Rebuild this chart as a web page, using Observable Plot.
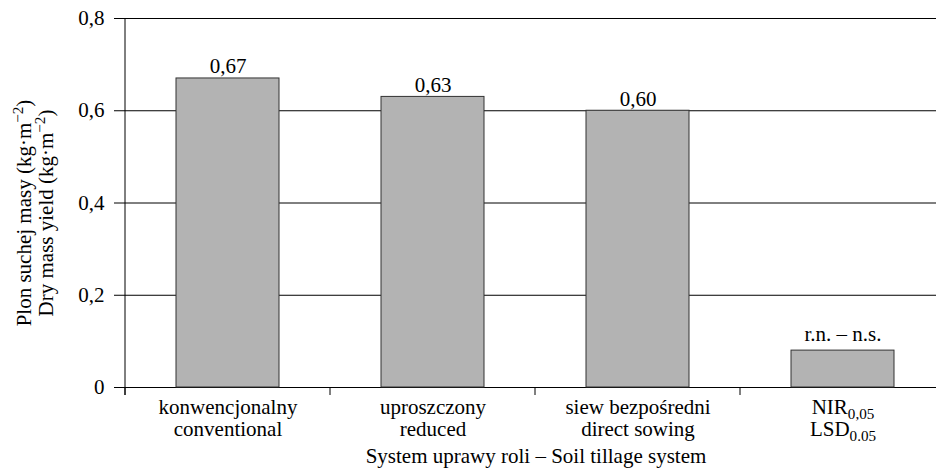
<!DOCTYPE html>
<html><head><meta charset="utf-8">
<script src="https://cdn.jsdelivr.net/npm/d3@7"></script>
<script src="https://cdn.jsdelivr.net/npm/@observablehq/plot@0.6"></script>
<style>body{margin:0;background:#fff;font-family:"Liberation Serif",serif}</style>
</head><body><div id="chart"></div>
<script>
const categories = ["konwencjonalny", "uproszczony", "siew bezpośredni", "NIR"];
const labelsPL = ["konwencjonalny", "uproszczony", "siew bezpośredni", "NIR0,05"];
const labelsEN = ["conventional", "reduced", "direct sowing", "LSD0.05"];
const values = [0.67, 0.63, 0.60, 0.08];
const valueLabels = ["0,67", "0,63", "0,60", "r.n. – n.s."];
const yTicks = [0, 0.2, 0.4, 0.6, 0.8];
const yTickLabels = ["0", "0,2", "0,4", "0,6", "0,8"];
const yTitle = ["Plon suchej masy (kg·m−2)", "Dry mass yield (kg·m−2)"];
const xTitle = "System uprawy roli – Soil tillage system";

const FONT = "Liberation Serif";
const FS = 21;
const data = categories.map((c, i) => ({cat: c, value: values[i], label: valueLabels[i], pl: labelsPL[i], en: labelsEN[i], idx: i}));

function axisLines(index, scales, values, dims) {
  const x = scales.x, y = scales.y;
  let bw = typeof x.bandwidth === "function" ? x.bandwidth() : x.bandwidth;
  if (bw == null && scales.scales && scales.scales.x) bw = scales.scales.x.bandwidth;
  const step = x(categories[1]) - x(categories[0]);
  const g = d3.create("svg:g").attr("stroke", "#000").attr("stroke-width", 1).attr("fill", "none");
  const x0 = dims.marginLeft;
  g.append("line").attr("x1", x0).attr("x2", x0).attr("y1", y(yTicks[yTicks.length - 1])).attr("y2", y(0) + 8);
  categories.forEach(c => {
    const bx = Math.round(x(c) - (step - bw) / 2);
    g.append("line").attr("x1", bx).attr("x2", bx).attr("y1", y(0)).attr("y2", y(0) + 8);
  });
  return g.node();
}

const chart = Plot.plot({
  width: 936,
  height: 475,
  marginLeft: 125,
  marginRight: 0,
  marginTop: 18,
  marginBottom: 88,
  x: {type: "band", domain: categories, range: [125, 945], paddingInner: 0.5, paddingOuter: 0.25, axis: null},
  y: {domain: [0, 0.8], ticks: yTicks, tickSize: 11, tickPadding: 10, label: null,
      tickFormat: d => yTickLabels[yTicks.indexOf(d)]},
  marks: [
    Plot.ruleY(yTicks, {stroke: "#000", strokeWidth: 1}),
    Plot.barY(data, {x: "cat", y: "value", fill: "#b3b3b3", stroke: "#333", strokeWidth: 1}),
    axisLines,
    Plot.text(data.slice(0, 3), {x: "cat", y: "value", text: "label", dy: -5, lineAnchor: "bottom", fontSize: FS}),
    Plot.text(data.slice(3), {x: "cat", y: "value", text: "label", dy: -10, lineAnchor: "bottom", fontSize: FS}),
    Plot.text(data, {x: "cat", frameAnchor: "bottom", text: "pl", dy: 26, lineAnchor: "bottom", fontSize: FS}),
    Plot.text(data, {x: "cat", frameAnchor: "bottom", text: "en", dy: 48, lineAnchor: "bottom", fontSize: FS}),
    Plot.text([xTitle], {frameAnchor: "bottom", text: d => d, dx: 5, dy: 75, lineAnchor: "bottom", fontSize: FS}),
    Plot.text([yTitle[0]], {frameAnchor: "left", textAnchor: "middle", text: d => d, dx: -95, dy: 10, rotate: -90, lineAnchor: "bottom", fontSize: FS}),
    Plot.text([yTitle[1]], {frameAnchor: "left", textAnchor: "middle", text: d => d, dx: -73, dy: 10, rotate: -90, lineAnchor: "bottom", fontSize: FS})
  ]
});

const root = d3.select(chart);
root.attr("font-family", FONT).attr("font-size", FS);
root.selectAll("g[font-family]").attr("font-family", FONT);
root.selectAll("text").attr("font-family", FONT).attr("fill", "#000");

// subscripts / superscripts as real text
root.selectAll("text").each(function() {
  const el = d3.select(this);
  if (el.selectAll("tspan").size() > 0) return;
  const t = this.textContent;
  let m = t.match(/^(NIR|LSD)(0[,.]05)$/);
  if (m) {
    el.text(null);
    el.append("tspan").text(m[1]);
    el.append("tspan").attr("dy", 5).attr("font-size", FS * 0.72).text(m[2]);
    return;
  }
  m = t.match(/^(.*\(kg·m)(−2)(\))$/);
  if (m) {
    el.text(null);
    el.append("tspan").text(m[1]);
    el.append("tspan").attr("dy", -8).attr("font-size", FS * 0.72).text(m[2]);
    el.append("tspan").attr("dy", 8).text(m[3]);
  }
});
root.selectAll("tspan").attr("font-family", FONT);
document.getElementById("chart").append(chart);
</script>
</body></html>
